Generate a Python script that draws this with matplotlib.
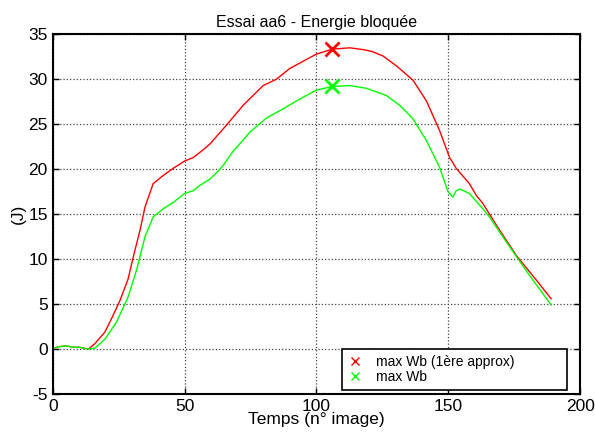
import matplotlib
matplotlib.use("Agg")
import matplotlib.pyplot as plt
from matplotlib.lines import Line2D

# values (frame number, energy in J)
x_red = [0, 2, 5, 8, 10, 13.5, 16, 19.8, 22.5, 25.5, 28.6, 30.5, 33.1, 35, 36.9,
         38.1, 41.9, 45.7, 50, 53.3, 56.4, 59.6, 65.9, 72.2, 79.8, 84.8, 89.9,
         96.2, 100, 106, 112.6, 117.7, 121, 125.2, 130.3, 136.6, 141.7, 146.7,
         150.5, 153, 158, 160.6, 163.1, 168.2, 175.8, 183.3, 189]
y_red = [0, 0.25, 0.35, 0.2, 0.2, 0, 0.6, 1.9, 3.5, 5.4, 7.8, 10.2, 13.2, 15.8, 17.4,
         18.4, 19.3, 20.1, 20.9, 21.3, 22.0, 22.8, 24.9, 27.1, 29.3, 30.0, 31.2,
         32.2, 32.8, 33.35, 33.5, 33.3, 33.1, 32.6, 31.5, 29.9, 27.6, 24.3,
         21.3, 20.1, 18.4, 17.1, 16.2, 13.8, 10.4, 7.7, 5.6]

x_green = [0, 2, 5, 8, 10, 13.5, 16, 19.8, 24.2, 28.6, 31.8, 35, 38.1, 41.9, 45.7,
           50, 53.2, 55.8, 59.6, 62.1, 64.6, 68.4, 70.3, 74.7, 81.1, 87.3, 93.7,
           100, 106, 112.6, 118.9, 126.5, 131.6, 136.6, 141.7, 146.7, 149.9,
           151.7, 153, 154.3, 158, 163.1, 165.6, 173.2, 180.8, 189]
y_green = [0, 0.25, 0.35, 0.2, 0.2, 0, 0.1, 1.1, 3.0, 5.8, 8.8, 12.5, 14.7, 15.6, 16.3,
           17.3, 17.6, 18.2, 18.9, 19.6, 20.4, 22.0, 22.6, 24.1, 25.7, 26.7, 27.8,
           28.8, 29.2, 29.3, 29.0, 28.2, 27.1, 25.6, 23.2, 20.2, 17.5,
           16.9, 17.6, 17.8, 17.3, 15.6, 14.7, 11.4, 8.2, 4.9]

max_x = 106
max_red = 33.4
max_green = 29.2
legend_labels = ["max Wb (1ère approx)", "max Wb"]

plt.rcParams["font.family"] = ["Liberation Sans", "DejaVu Sans"]
plt.rcParams["axes.unicode_minus"] = False

fig = plt.figure(figsize=(5.95, 4.36), dpi=100)
ax = fig.add_axes([0.0886, 0.0963, 0.8864, 0.8250])

ax.plot(x_red, y_red, color="#ff0000", lw=1.0)
ax.plot(x_green, y_green, color="#00ff00", lw=1.0)
ax.plot([max_x], [max_red], "x", color="#ff0000", ms=10, mew=2)
ax.plot([max_x], [max_green], "x", color="#00ff00", ms=10, mew=2)

ax.set_xlim(0, 200)
ax.set_ylim(-5, 35)
ax.set_xticks([0, 50, 100, 150, 200])
ax.set_yticks(range(-5, 36, 5))
ax.grid(True, linestyle=":", color="#444444", lw=0.9)
ax.tick_params(direction="in", top=True, right=True, labelsize=12.5,
               length=4, width=1)
for s in ax.spines.values():
    s.set_linewidth(1.5)

ax.set_title("Essai aa6 - Energie bloquée", fontsize=11.5, pad=5)
ax.set_xlabel("Temps (n° image)", fontsize=12.5, labelpad=-1)
ax.set_ylabel("(J)", fontsize=12.5, labelpad=2)

handles = [Line2D([], [], ls="none", marker="x", color=c, ms=6, mew=1)
           for c in ("#ff0000", "#00ff00")]
leg = ax.legend(handles, legend_labels, loc="lower left",
                bbox_to_anchor=(0.549, 0.011, 0.426, 0.109),
                mode="expand", borderaxespad=0, fontsize=10, handlelength=1.0,
                handletextpad=1.0, borderpad=0.45, labelspacing=0.05,
                fancybox=False, framealpha=1, edgecolor="black")
leg.get_frame().set_linewidth(1.2)

fig.savefig("out.png", dpi=100)
